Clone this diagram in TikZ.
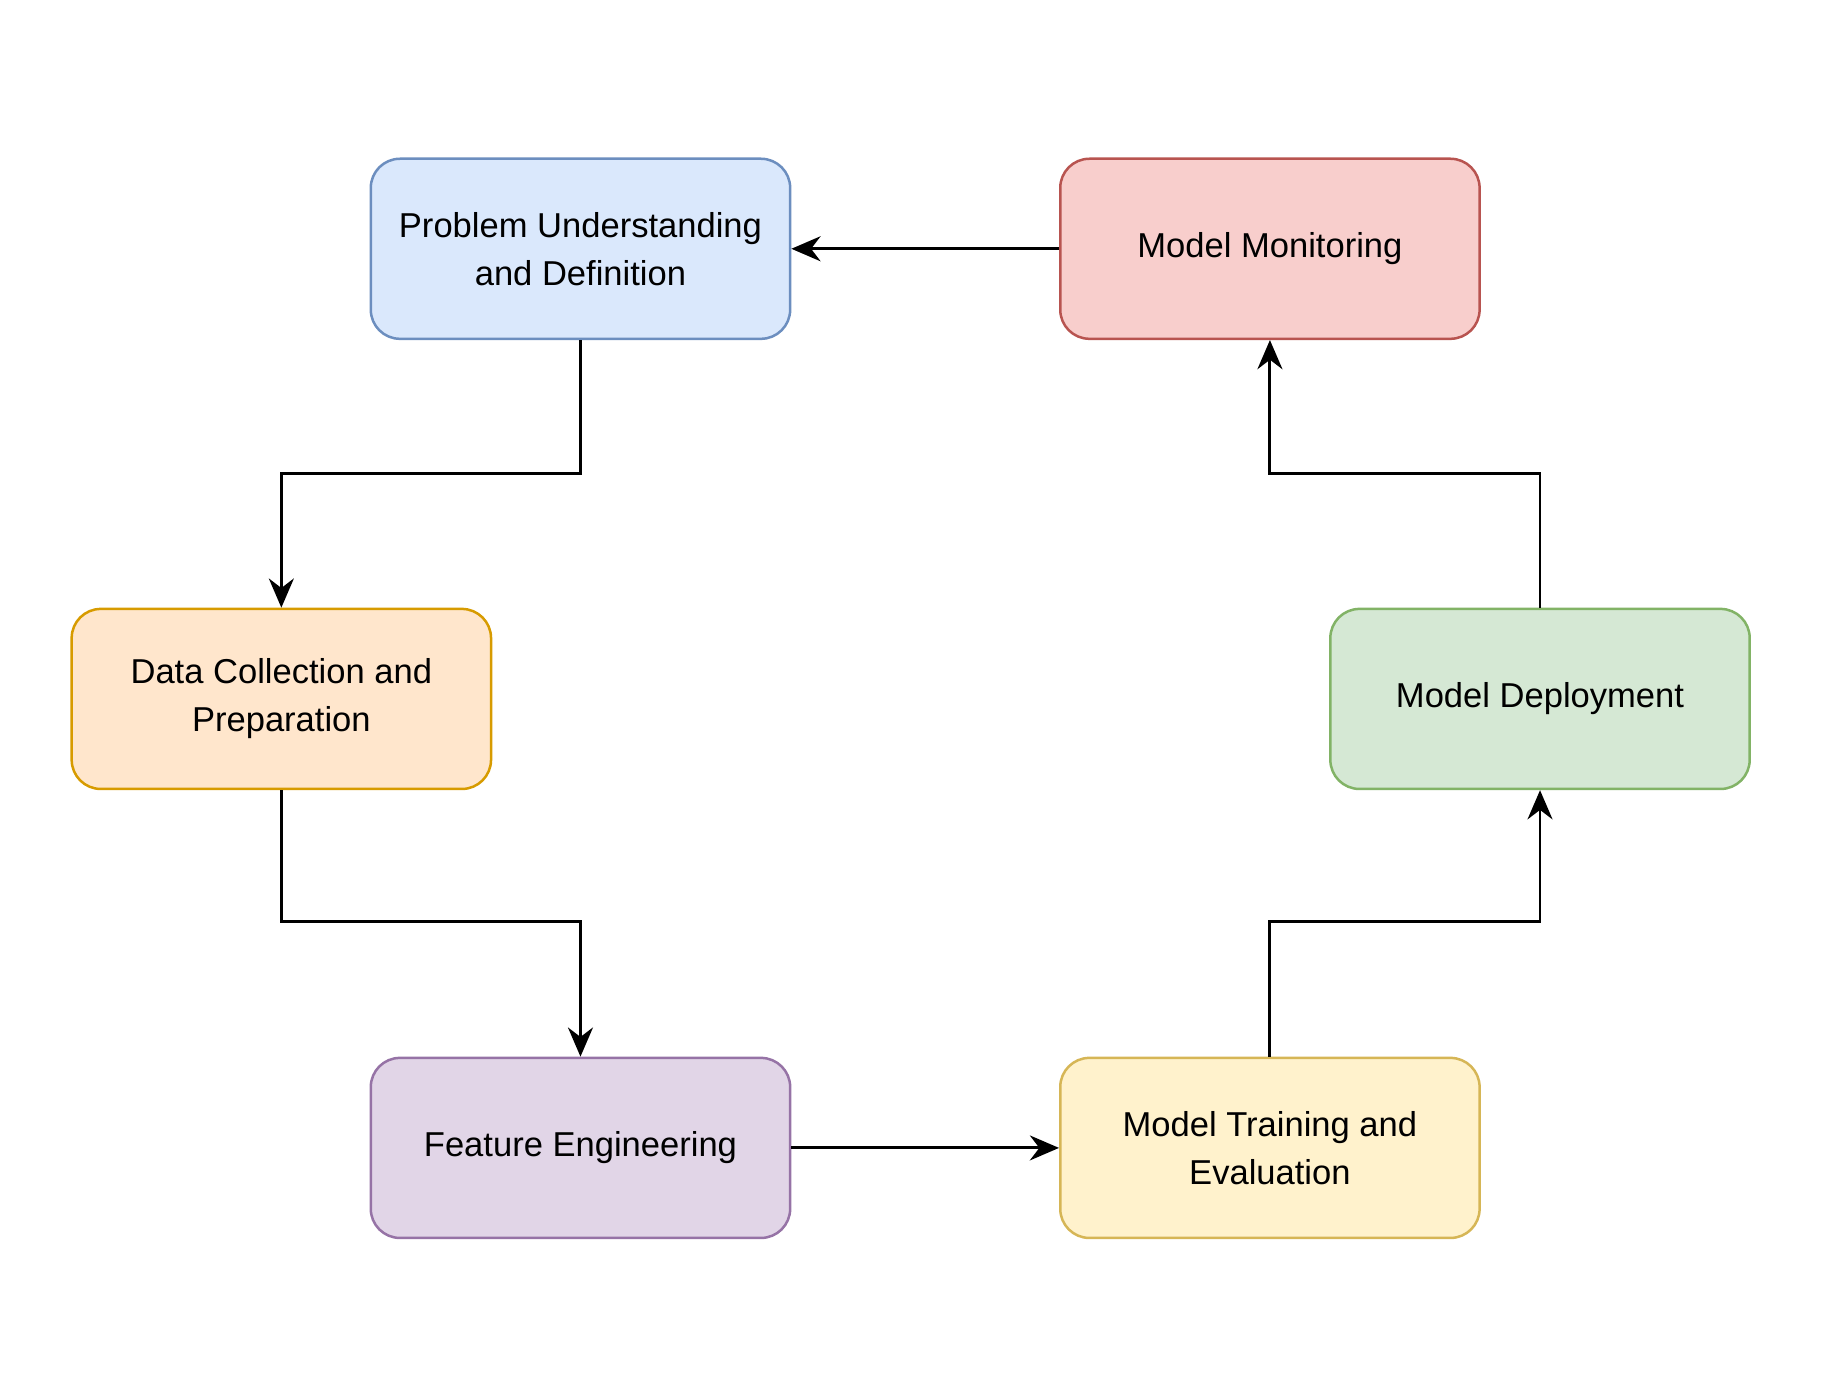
\documentclass[tikz,border=0pt]{standalone}
\usepackage{fontspec}
\setmainfont{Liberation Sans}
\usetikzlibrary{arrows.meta}
\definecolor{blueF}{HTML}{DAE8FC}\definecolor{blueD}{HTML}{6C8EBF}
\definecolor{redF}{HTML}{F8CECC}\definecolor{redD}{HTML}{B85450}
\definecolor{orangeF}{HTML}{FFE6CC}\definecolor{orangeD}{HTML}{D79B00}
\definecolor{greenF}{HTML}{D5E8D4}\definecolor{greenD}{HTML}{82B366}
\definecolor{purpleF}{HTML}{E1D5E7}\definecolor{purpleD}{HTML}{9673A6}
\definecolor{yellowF}{HTML}{FFF2CC}\definecolor{yellowD}{HTML}{D6B656}
\def\boxw{3.54cm}
\def\boxh{1.52cm}

\begin{document}
\begin{tikzpicture}[->,>={Stealth[length=7pt,width=6pt]},line width=0.7pt]
    \tikzstyle{stage}=[rectangle,rounded corners=7pt,minimum width=\boxw,minimum height=\boxh,
        align=center,font=\fontsize{8.3}{11.5}\selectfont,line width=0.6pt]
    \tikzstyle{link}=[draw=black,rounded corners=0pt]

    \useasboundingbox (0,0) rectangle (15.6,-11.63);

    % Draw the stages of the cycle
    \node[stage,fill=blueF,draw=blueD] (problem) at (4.90,-2.10) {Problem Understanding\\and Definition};
    \node[stage,fill=redF,draw=redD] (monitor) at (10.72,-2.10) {Model Monitoring};
    \node[stage,fill=orangeF,draw=orangeD] (data) at (2.375,-5.90) {Data Collection and\\Preparation};
    \node[stage,fill=greenF,draw=greenD] (deploy) at (13.00,-5.90) {Model Deployment};
    \node[stage,fill=purpleF,draw=purpleD] (feature) at (4.90,-9.69) {Feature Engineering};
    \node[stage,fill=yellowF,draw=yellowD] (train) at (10.72,-9.69) {Model Training and\\Evaluation};

    % Connect the stages
    \draw[link] (problem.south) |- (2.375,-4.00) -- (data.north);
    \draw[link] (data.south) |- (4.90,-7.78) -- (feature.north);
    \draw[link] (feature.east) -- (train.west);
    \draw[link] (train.north) |- (13.00,-7.78) -- (deploy.south);
    \draw[link] (deploy.north) |- (10.72,-4.00) -- (monitor.south);
    \draw[link] (monitor.west) -- (problem.east);
\end{tikzpicture}
\end{document}
